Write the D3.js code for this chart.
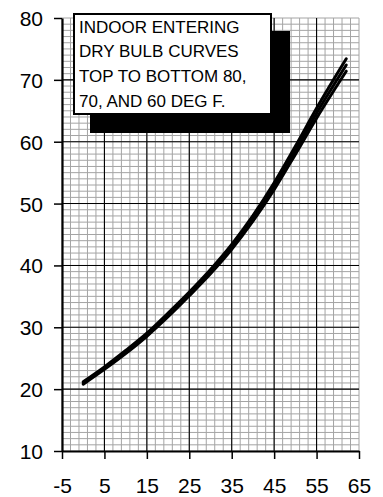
<!DOCTYPE html>
<html>
<head>
<meta charset="utf-8">
<script src="https://cdn.jsdelivr.net/npm/d3@7"></script>
<style>
  html, body { margin: 0; padding: 0; background: #fff; }
  svg { display: block; }
  text { font-family: "Liberation Sans", Arial, Helvetica, sans-serif; fill: #000; }
</style>
</head>
<body>
<svg id="chart" width="383" height="497"></svg>
<script>
// Outdoor temperature (deg F) sample points shared by all curves
const outdoorTemp = [0, 5, 10, 15, 20, 25, 30, 35, 40, 45, 50, 55, 62];
// Curve values for each indoor entering dry bulb temperature
const dryBulb80 = [21.2, 23.6, 26.25, 29.05, 32.3, 35.7, 39.35, 43.4, 48.05, 53.35, 59.25, 65.4, 73.4];
const dryBulb70 = [21.0, 23.4, 26.0, 28.8, 32.0, 35.4, 39.0, 43.0, 47.6, 52.8, 58.6, 64.6, 72.4];
const dryBulb60 = [20.8, 23.2, 25.75, 28.55, 31.7, 35.1, 38.65, 42.6, 47.15, 52.25, 57.95, 63.8, 71.4];

const xTicks = [-5, 5, 15, 25, 35, 45, 55, 65];
const yTicks = [10, 20, 30, 40, 50, 60, 70, 80];
const legendLines = [
  "INDOOR ENTERING",
  "DRY BULB CURVES",
  "TOP TO BOTTOM 80,",
  "70, AND 60 DEG F."
];

const svg = d3.select("#chart");
const plotLeft = 62, plotRight = 359, plotTop = 18, plotBottom = 451;

const x = d3.scaleLinear().domain([-5, 65]).range([plotLeft, plotRight]);
const y = d3.scaleLinear().domain([10, 80]).range([plotBottom, plotTop]);

// Fine grid: vertical every 2 units, horizontal every 1 unit
const grid = svg.append("g");
grid.selectAll("line.vminor")
  .data(d3.range(-5, 65.001, 2))
  .join("line")
  .attr("x1", d => x(d)).attr("x2", d => x(d))
  .attr("y1", plotTop).attr("y2", plotBottom)
  .attr("stroke", "#a4a4a4").attr("stroke-width", 1);
grid.selectAll("line.hminor")
  .data(d3.range(10, 80.001, 1))
  .join("line")
  .attr("x1", plotLeft).attr("x2", plotRight)
  .attr("y1", d => y(d)).attr("y2", d => y(d))
  .attr("stroke", "#a4a4a4").attr("stroke-width", 1);

// Heavy grid lines at the labelled values
grid.selectAll("line.vmajor")
  .data(xTicks.slice(1, -1))
  .join("line")
  .attr("x1", d => x(d)).attr("x2", d => x(d))
  .attr("y1", plotTop).attr("y2", plotBottom)
  .attr("stroke", "#000").attr("stroke-width", 1.1);
grid.selectAll("line.hmajor")
  .data(yTicks.slice(1, -1))
  .join("line")
  .attr("x1", plotLeft).attr("x2", plotRight)
  .attr("y1", d => y(d)).attr("y2", d => y(d))
  .attr("stroke", "#000").attr("stroke-width", 1.1);

// Axes (plain hyphen for negative labels)
const fmt = d => String(d);
const yAxis = svg.append("g")
  .attr("transform", `translate(${plotLeft},0)`)
  .call(d3.axisLeft(y).tickValues(yTicks).tickFormat(fmt)
    .tickSize(8).tickSizeOuter(0).tickPadding(11));
const xAxis = svg.append("g")
  .attr("transform", `translate(0,${plotBottom})`)
  .call(d3.axisBottom(x).tickValues(xTicks).tickFormat(fmt)
    .tickSize(8).tickSizeOuter(0).tickPadding(19));

[yAxis, xAxis].forEach(g => {
  g.select(".domain").attr("stroke", "#000").attr("stroke-width", 2.2);
  g.selectAll(".tick line").attr("stroke", "#000").attr("stroke-width", 1.5);
  g.selectAll(".tick text")
    .attr("fill", "#000")
    .style("font-family", "'Liberation Sans', Arial, Helvetica, sans-serif")
    .style("font-size", "21px");
});
yAxis.selectAll(".tick text").attr("dy", "0.36em");

// Legend box with a heavy drop shadow
const legend = svg.append("g");
legend.append("rect")
  .attr("x", 90).attr("y", 31).attr("width", 200).attr("height", 102)
  .attr("fill", "#000");
legend.append("rect")
  .attr("x", 74).attr("y", 14).attr("width", 197).attr("height", 100)
  .attr("fill", "#fff").attr("stroke", "#000").attr("stroke-width", 2);
legend.selectAll("text")
  .data(legendLines)
  .join("text")
  .attr("x", 79)
  .attr("y", (d, i) => 32.7 + i * 24.7)
  .style("font-size", "17px")
  .text(d => d);

// The three curves
const line = d3.line()
  .x((d, i) => x(outdoorTemp[i]))
  .y(d => y(d))
  .curve(d3.curveMonotoneX);

svg.append("g")
  .selectAll("path")
  .data([dryBulb80, dryBulb70, dryBulb60])
  .join("path")
  .attr("d", line)
  .attr("fill", "none")
  .attr("stroke", "#000")
  .attr("stroke-width", 3)
  .attr("stroke-linecap", "round");
</script>
</body>
</html>
